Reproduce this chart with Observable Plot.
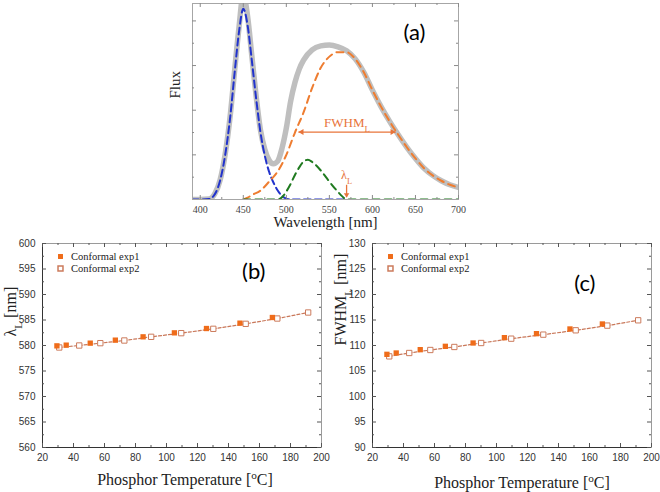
<!DOCTYPE html>
<html><head><meta charset="utf-8">
<script src="https://cdn.jsdelivr.net/npm/d3@7"></script>
<script src="https://cdn.jsdelivr.net/npm/@observablehq/plot@0.6"></script>
<style>
html,body{margin:0;padding:0;background:#fff;}
#root{position:relative;width:660px;height:492px;overflow:hidden;background:#fff;}
#root svg{position:absolute;overflow:visible;}
</style></head>
<body><div id="root"></div>
<script>
// ---------- Panel (a): spectrum ----------
const totalWl   = [390,400,410,417,423,429,435,440,445,450,455,460,465,470,475,480,485,490,495,500,505,510,515,520,530,540,550,560,570,580,590,600,610,620,630,640,650,660,670,680,690,700];
const totalFlux = [0,0,0.01,0.13,0.43,1.02,1.91,2.9,3.85,4.6,4.1,3.2,2.3,1.55,1.12,0.88,0.8,0.86,1.15,1.6,2.2,2.62,2.92,3.12,3.35,3.44,3.46,3.42,3.33,3.15,2.85,2.45,2.08,1.75,1.45,1.17,0.92,0.7,0.54,0.42,0.33,0.27];
const blueWl    = [390,400,410,417,423,429,435,440,445,450,455,460,465,470,475,480,485,490,495,500,505,570];
const blueFlux  = [0,0,0.01,0.12,0.42,1.0,1.88,2.85,3.75,4.27,3.9,3.1,2.25,1.5,0.98,0.62,0.38,0.2,0.08,0.02,0,0];
const orangeWl  = [450,455,460,470,480,490,500,510,520,530,540,550,560,570,580,590,600,610,620,630,640,650,660,670,680,690,700];
const orangeFlux= [0,0.04,0.1,0.2,0.4,0.63,1.0,1.5,1.95,2.5,2.95,3.2,3.3,3.3,3.15,2.85,2.45,2.08,1.75,1.45,1.17,0.92,0.7,0.54,0.42,0.33,0.27];
const greenWl   = [450,490,495,500,505,510,515,520,525,530,540,550,560,565,570,700];
const greenFlux = [0,0,0.05,0.18,0.35,0.55,0.72,0.85,0.89,0.84,0.65,0.4,0.17,0.07,0,0];
const fwhmLeft = 514, fwhmRight = 627, fwhmLevel = 1.51;
const lambdaL = 570;
const wlTicks = [400,450,500,550,600,650,700];
const wlMinor = [425,475,525,575,625,675];
const fluxTicks = [1,2,3,4];
const fluxMinor = [0.5,1.5,2.5,3.5];

// ---------- Panels (b), (c) ----------
const tempExp1   = [29.3,35.3,50.8,67.0,84.9,105.1,125.8,147.4,168.3];
const lambdaExp1 = [579.93,580.07,580.46,581.05,581.70,582.48,583.33,584.38,585.49];
const fwhmExp1   = [108.27,108.53,109.18,109.84,110.49,111.54,112.32,113.24,114.22];
const tempExp2   = [30.8,43.7,57.3,72.8,90.1,109.5,130.2,151.1,171.5,191.4];
const lambdaExp2 = [579.61,580.00,580.46,580.98,581.70,582.42,583.27,584.25,585.29,586.47];
const fwhmExp2   = [107.87,108.53,109.12,109.71,110.49,111.34,112.13,112.98,113.90,114.94];
const tempTicks = [20,40,60,80,100,120,140,160,180,200];
const tempMinor = [30,50,70,90,110,130,150,170,190];
const lambdaTicks = [560,565,570,575,580,585,590,595,600];
const lambdaMinor = [562.5,567.5,572.5,577.5,582.5,587.5,592.5,597.5];
const fwhmTicks = [90,95,100,105,110,115,120,125,130];
const fwhmMinor = [92.5,97.5,102.5,107.5,112.5,117.5,122.5,127.5];
const seriesNames = ["Conformal exp1","Conformal exp2"];

const SERIF = "'Liberation Serif','Times New Roman',serif";
const SANS = "'Liberation Sans',Arial,sans-serif";
const TAGF = "Lato,'Open Sans',sans-serif";
const ORANGE = "#e8743a";

function zip(xs, ys){ return xs.map((x,i)=>({x, y: ys[i]})); }

function frameTicks(fw, fh, xMaj, xMin, yMaj, yMin, stroke){
  return [
    Plot.tickX(xMaj, {x: d=>d, insetTop: fh-4, stroke}),
    Plot.tickX(xMaj, {x: d=>d, insetBottom: fh-4, stroke}),
    Plot.tickX(xMin, {x: d=>d, insetTop: fh-2, stroke}),
    Plot.tickX(xMin, {x: d=>d, insetBottom: fh-2, stroke}),
    Plot.tickY(yMaj, {y: d=>d, insetRight: fw-4, stroke}),
    Plot.tickY(yMaj, {y: d=>d, insetLeft: fw-4, stroke}),
    Plot.tickY(yMin, {y: d=>d, insetRight: fw-2, stroke}),
    Plot.tickY(yMin, {y: d=>d, insetLeft: fw-2, stroke})
  ];
}

function richify(svg){
  const ns = "http://www.w3.org/2000/svg";
  svg.querySelectorAll("text").forEach(t => {
    const s = t.textContent;
    if (!/[_^]\{/.test(s)) return;
    t.textContent = "";
    const add = (str, kind) => {
      const ts = document.createElementNS(ns, "tspan");
      ts.textContent = str;
      if (kind) { ts.setAttribute("font-size", "70%"); ts.setAttribute("baseline-shift", kind === "_" ? "sub" : "super"); }
      t.appendChild(ts);
    };
    const re = /([_^])\{([^}]*)\}/g; let last = 0, m;
    while ((m = re.exec(s))) {
      if (m.index > last) add(s.slice(last, m.index), null);
      add(m[2], m[1]);
      last = re.lastIndex;
    }
    if (last < s.length) add(s.slice(last), null);
  });
  return svg;
}

function place(svg, left, top){
  svg.style.left = left + "px"; svg.style.top = top + "px";
  document.getElementById("root").appendChild(svg);
}

// ---- Panel (a)
(function(){
  const W=320, H=236, mL=42, mR=12, mT=3, mB=37;
  const fw=W-mL-mR, fh=H-mT-mB;
  const mid = (fwhmLeft + fwhmRight)/2;
  const svg = Plot.plot({
    width: W, height: H, marginLeft: mL, marginRight: mR, marginTop: mT, marginBottom: mB,
    style: {background: "transparent", fontFamily: SERIF, fontSize: "10px", color: "#444", overflow: "visible"},
    x: {domain: [391, 700]},
    y: {domain: [0, 4.39], axis: null},
    marks: [
      Plot.line(zip(totalWl, totalFlux), {x: "x", y: "y", stroke: "#bfbfbf", strokeWidth: 5.5, curve: "monotone-x", clip: true}),
      Plot.line(zip(blueWl, blueFlux), {x: "x", y: "y", stroke: "#2233cc", strokeWidth: 2, strokeDasharray: "7,4", curve: "monotone-x", clip: true}),
      Plot.line(zip(orangeWl, orangeFlux), {x: "x", y: "y", stroke: "#ee7d31", strokeWidth: 2, strokeDasharray: "7,5", curve: "monotone-x", clip: true}),
      Plot.line(zip(greenWl, greenFlux), {x: "x", y: "y", stroke: "#1f7a1f", strokeWidth: 2, strokeDasharray: "7,5", curve: "monotone-x", clip: true}),
      Plot.frame({stroke: "#a6a6a6"}),
      ...frameTicks(fw, fh, wlTicks, wlMinor, fluxTicks, fluxMinor, "#8a8a8a"),
      Plot.axisX(wlTicks, {tickSize: 0, tickPadding: 6, label: null, fontFamily: SERIF, fontSize: 10}),
      // FWHM double arrow
      Plot.link([{x1: fwhmLeft, x2: fwhmRight, y: fwhmLevel}], {x1: "x1", x2: "x2", y1: "y", y2: "y", stroke: ORANGE, strokeWidth: 1.3}),
      Plot.dot([{x: fwhmLeft, y: fwhmLevel}], {x: "x", y: "y", symbol: "triangle", r: 2.2, rotate: -90, dx: 3.4, fill: ORANGE}),
      Plot.dot([{x: fwhmRight, y: fwhmLevel}], {x: "x", y: "y", symbol: "triangle", r: 2.2, rotate: 90, dx: -3.4, fill: ORANGE}),
      Plot.text([{x: mid, y: 1.71, t: "FWHM_{L}"}], {x: "x", y: "y", text: "t", fill: ORANGE, fontFamily: SERIF, fontSize: 13}),
      // lambda_L arrow
      Plot.link([{x: lambdaL, y1: 0.33, y2: 0.06}], {x1: "x", x2: "x", y1: "y1", y2: "y2", stroke: ORANGE, strokeWidth: 1.3}),
      Plot.dot([{x: lambdaL, y: 0.04}], {x: "x", y: "y", symbol: "triangle", r: 2, rotate: 180, dy: -3, fill: ORANGE}),
      Plot.text([{x: lambdaL, y: 0.55, t: "λ_{L}"}], {x: "x", y: "y", text: "t", fill: ORANGE, fontFamily: SERIF, fontSize: 12}),
      Plot.text(["(a)"], {frameAnchor: "top-right", lineAnchor: "middle", dx: -33, dy: 29, fontFamily: TAGF, fontSize: 22, fill: "#000"}),
      Plot.text(["Flux"], {frameAnchor: "left", lineAnchor: "middle", dx: -17, dy: -3, rotate: -90, fontFamily: SERIF, fontSize: 15, fill: "#222"}),
      Plot.text(["Wavelength [nm]"], {frameAnchor: "bottom", lineAnchor: "middle", dy: 23, fontFamily: SERIF, fontSize: 15, fill: "#222"})
    ]
  });
  place(richify(svg), 150, 0);
})();

// ---- Panels (b) and (c)
function panel(cfg){
  const W=330, H=262, mL=42, mR=9, mT=13, mB=45;
  const fw=W-mL-mR, fh=H-mT-mB;
  const d1 = zip(tempExp1, cfg.v1), d2 = zip(tempExp2, cfg.v2);
  const svg = Plot.plot({
    width: W, height: H, marginLeft: mL, marginRight: mR, marginTop: mT, marginBottom: mB,
    style: {background: "transparent", fontFamily: SANS, fontSize: "10px", color: "#333", overflow: "visible"},
    x: {domain: [20, 200]},
    y: {domain: [cfg.yTicks[0], cfg.yTicks[cfg.yTicks.length-1]]},
    marks: [
      Plot.frame({stroke: "#9a9a9a"}),
      Plot.ruleX([20], {stroke: "#333"}),
      Plot.ruleY([cfg.yTicks[0]], {stroke: "#333"}),
      ...frameTicks(fw, fh, tempTicks, tempMinor, cfg.yTicks, cfg.yMinor, "#555"),
      Plot.axisX(tempTicks, {tickSize: 0, tickPadding: 6, label: null, fontSize: 10}),
      Plot.axisY(cfg.yTicks, {tickSize: 0, tickPadding: 7, label: null, fontSize: 10}),
      Plot.line(d2, {x: "x", y: "y", stroke: "#c9785a", strokeWidth: 1.2, strokeDasharray: "3,2"}),
      Plot.dot(d2, {x: "x", y: "y", symbol: "square", r: 3, stroke: "#cc7b5c", fill: "white", strokeWidth: 1}),
      Plot.dot(d1, {x: "x", y: "y", symbol: "square", r: 3, fill: "#ef6c1a"}),
      // legend
      Plot.dot([0], {frameAnchor: "top-left", dx: 18, dy: 13, symbol: "square", r: 2.8, fill: "#ef6c1a"}),
      Plot.dot([0], {frameAnchor: "top-left", dx: 18, dy: 25, symbol: "square", r: 2.8, stroke: "#cc7b5c", fill: "white"}),
      Plot.text([seriesNames[0]], {frameAnchor: "top-left", lineAnchor: "middle", dx: 28.5, dy: 13, textAnchor: "start", fontFamily: SERIF, fontSize: 10.5, fill: "#222"}),
      Plot.text([seriesNames[1]], {frameAnchor: "top-left", lineAnchor: "middle", dx: 28.5, dy: 25, textAnchor: "start", fontFamily: SERIF, fontSize: 10.5, fill: "#222"}),
      Plot.text([cfg.tag], {frameAnchor: "top-right", lineAnchor: "middle", dx: -56, dy: cfg.tagDy, fontFamily: TAGF, fontSize: 22, fill: "#000"}),
      Plot.text([cfg.yLabel], {frameAnchor: "left", lineAnchor: "middle", dx: -32, dy: cfg.yLabelDy, rotate: -90, fontFamily: SERIF, fontSize: 16, fill: "#222"}),
      Plot.text(["Phosphor Temperature [^{o}C]"], {frameAnchor: "bottom", lineAnchor: "middle", dx: cfg.xLabelDx, dy: cfg.xLabelDy, fontFamily: SERIF, fontSize: 16, fill: "#222"})
    ]
  });
  return richify(svg);
}

place(panel({v1: lambdaExp1, v2: lambdaExp2, yTicks: lambdaTicks, yMinor: lambdaMinor, tag: "(b)", tagDy: 28,
  yLabel: "λ_{L} [nm]", yLabelDy: -9, xLabelDx: 3, xLabelDy: 32}), 0, 230);
place(panel({v1: fwhmExp1, v2: fwhmExp2, yTicks: fwhmTicks, yMinor: fwhmMinor, tag: "(c)", tagDy: 40,
  yLabel: "FWHM_{L} [nm]", yLabelDy: 0, xLabelDx: 10, xLabelDy: 35}), 330, 230);
</script>
</body></html>
